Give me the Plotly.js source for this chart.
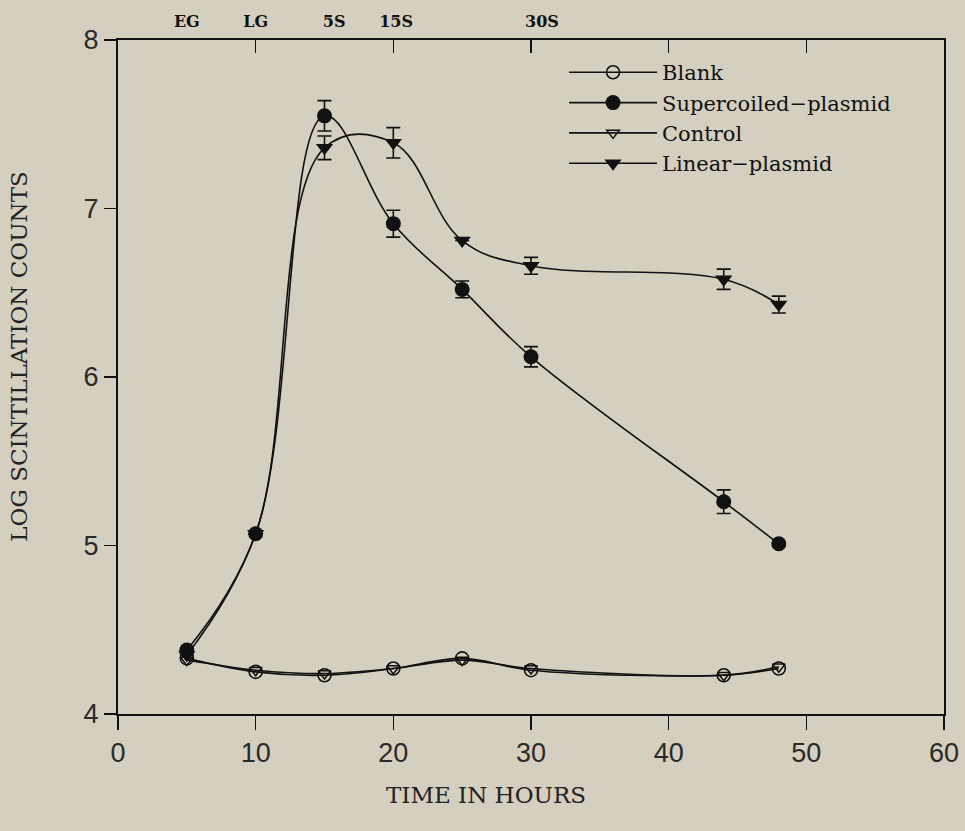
<!DOCTYPE html>
<html><head><script src="https://cdn.plot.ly/plotly-3.0.1.min.js"></script>
<style>body{margin:0;background:#d4cfbf}</style></head>
<body><div id="c" style="width:965px;height:831px"></div>
<script>
const hours = [5,10,15,20,25,30,44,48];
const blank = [4.33,4.25,4.23,4.27,4.33,4.26,4.23,4.27];
const control = [4.32,4.26,4.24,4.27,4.32,4.27,4.23,4.28];
const supercoiled = [4.38,5.07,7.55,6.91,6.52,6.12,5.26,5.01];
const supercoiledErr = [0,0,0.09,0.08,0.05,0.06,0.07,0];
const linear = [4.35,5.07,7.36,7.39,6.81,6.66,6.58,6.43];
const linearErr = [0,0,0.07,0.09,0,0.05,0.06,0.05];
const phaseLabels = ['EG','LG','5S','15S','30S'];
const phaseTimes = [5,10,15.7,20.2,30.8];
const topTicks = [10,20,30,40,50];
const xTitle = 'TIME IN HOURS';
const yTitle = 'LOG SCINTILLATION COUNTS';

const ink = '#111';
const lineW = 1.6;
function errs(arr){ return {type:'data', array:arr, visible:true, color:ink, thickness:1.6, width:7}; }

const traces = [
  {name:'Blank', x:hours, y:blank, mode:'lines+markers',
   line:{color:ink, width:lineW, shape:'spline', smoothing:1.0},
   marker:{symbol:'circle-open', size:13, color:ink, line:{width:1.6, color:ink}}},
  {name:'Supercoiled\u2212plasmid', x:hours, y:supercoiled, mode:'lines+markers', error_y:errs(supercoiledErr),
   line:{color:ink, width:lineW, shape:'spline', smoothing:1.1},
   marker:{symbol:'circle', size:15, color:ink}},
  {name:'Control', x:hours, y:control, mode:'lines+markers',
   line:{color:ink, width:lineW, shape:'spline', smoothing:1.0},
   marker:{symbol:'triangle-down-open', size:11, color:ink, line:{width:1.5, color:ink}}},
  {name:'Linear\u2212plasmid', x:hours, y:linear, mode:'lines+markers', error_y:errs(linearErr),
   line:{color:ink, width:lineW, shape:'spline', smoothing:1.1},
   marker:{symbol:'triangle-down', size:15, color:ink}},
  {x:topTicks, y:topTicks.map(()=>null), xaxis:'x2', mode:'markers', showlegend:false, hoverinfo:'skip'},
  {x:phaseTimes, y:phaseTimes.map(()=>null), xaxis:'x3', mode:'markers', showlegend:false, hoverinfo:'skip'}
];

const tickFont = {family:'Liberation Sans, Arial, sans-serif', size:27, color:'#2a2a2a'};
const serif = 'DejaVu Serif, serif';
const layout = {
  width:965, height:831,
  paper_bgcolor:'#d4cfbf', plot_bgcolor:'#d4cfbf',
  margin:{l:118, r:21, t:40, b:117},
  showlegend:true,
  legend:{x:0.54, y:0.982, xanchor:'left', yanchor:'top', bgcolor:'rgba(0,0,0,0)',
    font:{family:serif, size:21, color:ink}, tracegroupgap:0, itemwidth:88},
  xaxis:{range:[0,60], tickvals:[0,10,20,30,40,50,60], ticks:'outside', ticklen:14, tickwidth:1.6, tickcolor:ink,
    showline:true, linecolor:ink, linewidth:2, mirror:true, showgrid:false, zeroline:false, tickfont:tickFont},
  xaxis2:{range:[0,60], overlaying:'x', side:'top', tickvals:topTicks, ticks:'inside', ticklen:13, tickwidth:1.6,
    tickcolor:ink, showticklabels:false, showgrid:false, zeroline:false, showline:false},
  xaxis3:{range:[0,60], overlaying:'x', side:'top', tickvals:phaseTimes, ticktext:phaseLabels, ticks:'outside',
    ticklen:6, tickcolor:'rgba(0,0,0,0)', showgrid:false, zeroline:false, showline:false,
    tickfont:{family:serif, size:16, color:ink, weight:'bold'}},
  yaxis:{range:[4,8], tickvals:[4,5,6,7,8], ticks:'outside', ticklen:12, tickwidth:1.6, tickcolor:ink,
    showline:true, linecolor:ink, linewidth:2, mirror:true, showgrid:false, zeroline:false, tickfont:tickFont},
  annotations:[
    {text:xTitle, xref:'paper', yref:'paper', x:0.445, y:-0.098, xanchor:'center', yanchor:'top', showarrow:false,
     font:{family:serif, size:23, color:'#222'}},
    {text:yTitle, xref:'paper', yref:'paper', x:-0.12, y:0.53, xanchor:'center', yanchor:'middle', textangle:-90, showarrow:false,
     font:{family:serif, size:23, color:'#222'}}
  ]
};
Plotly.newPlot('c', traces, layout, {displayModeBar:false, staticPlot:true});
</script></body></html>
